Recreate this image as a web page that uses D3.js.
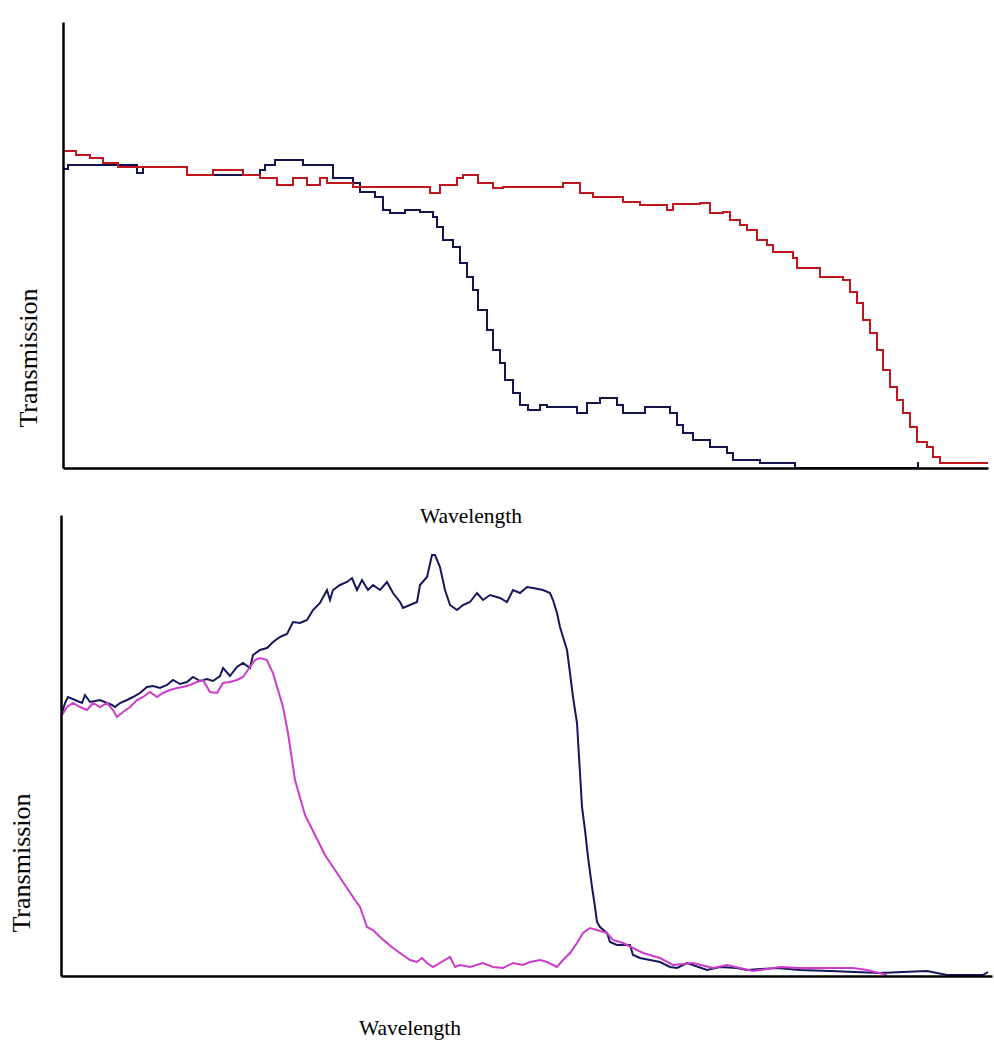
<!DOCTYPE html>
<html>
<head>
<meta charset="utf-8">
<script src="https://cdn.jsdelivr.net/npm/d3@7"></script>
<style>
	body { margin: 0; background: #fff; }
	.axis-label { font-family: 'Liberation Serif', 'Times New Roman', serif; fill: #000; }
	.x-label { font-size: 21.5px; }
	.y-label { font-size: 26px; }
	.axis path { stroke: #000; stroke-width: 2.5; }
	.spectrum { fill: none; stroke-width: 2; stroke-linejoin: miter; }
</style>
</head>
<body>
<svg id="chart" width="994" height="1042"></svg>
<script>
// arbitrary units: [wavelength, transmission]

let topBlue = [
	[1, 299], [5, 303], [74, 295], [80, 301], [124, 293], [197, 298], [202, 303], [212, 308],
	[240, 303], [270, 290], [290, 285], [297, 276], [312, 271], [320, 258], [327, 255], [342, 258],
	[357, 256], [370, 251], [374, 241], [380, 228], [390, 221], [397, 205], [404, 191], [410, 178],
	[415, 158], [424, 138], [430, 118], [437, 105], [442, 88], [450, 75], [457, 63], [465, 58],
	[477, 63], [484, 61], [514, 55], [524, 65], [537, 70], [554, 63], [560, 55], [582, 61],
	[607, 55], [614, 43], [620, 35], [630, 28], [647, 21], [664, 15], [670, 8], [697, 5],
	[732, 0], [855, 6]
]

let topRed = [
	[1, 317], [13, 313], [27, 310], [40, 305], [55, 301], [124, 293], [150, 298], [180, 293],
	[197, 290], [214, 283], [230, 290], [244, 283], [257, 290], [264, 285], [290, 281], [367, 275],
	[377, 283], [394, 290], [400, 293], [415, 285], [430, 280], [440, 281], [500, 285], [517, 275],
	[530, 271], [560, 266], [577, 263], [604, 258], [610, 264], [637, 265], [647, 255], [660, 256],
	[667, 248], [677, 243], [684, 238], [694, 228], [704, 223], [710, 216], [730, 210], [734, 200],
	[757, 191], [780, 188], [787, 176], [794, 165], [800, 148], [807, 135], [814, 118], [820, 98],
	[827, 81], [834, 68], [840, 55], [847, 41], [854, 26], [864, 21], [870, 11], [877, 5], [925, 5]
]

let bottomNavy = [
	[1, 263], [4, 273], [7, 279], [21, 273], [24, 281], [29, 274], [39, 276], [46, 273],
	[51, 271], [54, 269], [59, 273], [66, 276], [72, 279], [79, 283], [86, 289], [92, 290],
	[99, 288], [106, 291], [112, 296], [119, 292], [126, 294], [132, 299], [139, 295], [146, 297],
	[152, 295], [159, 300], [162, 308], [169, 300], [176, 309], [182, 313], [189, 308], [192, 321],
	[199, 326], [206, 328], [212, 334], [219, 339], [226, 342], [232, 354], [239, 353], [246, 356],
	[252, 366], [259, 373], [266, 386], [269, 376], [272, 386], [279, 391], [286, 394], [291, 398],
	[296, 386], [301, 396], [307, 386], [312, 391], [319, 386], [326, 394], [332, 383], [339, 374],
	[342, 368], [356, 374], [359, 391], [366, 399], [371, 421], [374, 421], [379, 409], [384, 386],
	[389, 371], [396, 366], [402, 371], [409, 374], [416, 383], [422, 376], [429, 381], [439, 378],
	[446, 374], [452, 386], [459, 383], [466, 389], [472, 388], [482, 386], [489, 383], [492, 376],
	[496, 363], [499, 349], [502, 339], [506, 326], [509, 303], [512, 279], [516, 253], [517, 236],
	[519, 203], [521, 169], [524, 146], [527, 119], [531, 89], [534, 69], [536, 54], [539, 49],
	[546, 43], [549, 34], [556, 31], [569, 31], [572, 21], [579, 18], [589, 16], [599, 14],
	[609, 9], [616, 8], [626, 13], [646, 6], [659, 9], [676, 8], [686, 6], [716, 8],
	[739, 6], [769, 5], [819, 3], [842, 4], [866, 5], [886, 1], [922, 1], [927, 4]
]

let bottomMagenta = [
	[1, 261], [6, 269], [12, 273], [19, 269], [26, 266], [32, 273], [39, 269], [46, 273],
	[52, 266], [56, 259], [62, 264], [69, 269], [76, 276], [82, 279], [89, 284], [96, 279],
	[102, 283], [109, 286], [116, 288], [122, 289], [129, 291], [136, 294], [142, 296], [149, 284],
	[156, 283], [162, 293], [169, 294], [176, 296], [182, 299], [189, 309], [194, 316], [199, 318],
	[206, 316], [209, 309], [212, 303], [217, 286], [222, 269], [227, 243], [234, 196], [244, 161],
	[254, 141], [264, 121], [274, 106], [284, 91], [294, 76], [299, 69], [306, 49], [312, 46],
	[319, 39], [326, 33], [332, 28], [339, 23], [349, 16], [356, 14], [361, 18], [366, 13],
	[372, 9], [389, 19], [394, 9], [399, 11], [409, 9], [422, 13], [432, 9], [442, 8],
	[452, 13], [462, 11], [469, 14], [479, 16], [486, 14], [496, 9], [502, 16], [509, 23],
	[516, 33], [522, 43], [529, 48], [546, 43], [552, 36], [562, 33], [582, 23], [599, 18],
	[612, 11], [632, 13], [652, 8], [666, 11], [692, 5], [719, 9], [739, 8], [792, 8],
	[806, 6], [826, 1]
]

let panels = [
	{
		xMax: 925, yMax: 446,
		left: 63, right: 988, top: 22, bottom: 468,
		curve: d3.curveStepAfter,
		series: [
			{ data: topBlue, color: '#13134e' },
			{ data: topRed, color: '#c0161e' }
		],
		xLabel: [471, 523],
		yLabel: [37, 358]
	},
	{
		xMax: 931, yMax: 461,
		left: 61, right: 992, top: 515, bottom: 976,
		curve: d3.curveLinear,
		series: [
			{ data: bottomNavy, color: '#16165c' },
			{ data: bottomMagenta, color: '#cc3ccc' }
		],
		xLabel: [410, 1035],
		yLabel: [30, 863]
	}
]

let svg = d3.select('#chart')

panels.forEach(p => {

	let x = d3.scaleLinear()
		.domain([0, p.xMax])
		.range([p.left, p.right])

	let y = d3.scaleLinear()
		.domain([0, p.yMax])
		.range([p.bottom, p.top])

	let line = d3.line()
		.x(d => x(d[0]))
		.y(d => y(d[1]))
		.curve(p.curve)

	p.series.forEach(s => {
		svg.append('path')
			.datum(s.data)
			.attr('class', 'spectrum')
			.attr('stroke', s.color)
			.attr('d', line)
	})

	svg.append('g')
		.attr('class', 'axis')
		.attr('transform', `translate(${p.left},0)`)
		.call(d3.axisLeft(y).ticks(0).tickSizeOuter(0))

	svg.append('g')
		.attr('class', 'axis')
		.attr('transform', `translate(0,${p.bottom})`)
		.call(d3.axisBottom(x).ticks(0).tickSizeOuter(0))

	svg.append('text')
		.attr('class', 'axis-label x-label')
		.attr('x', p.xLabel[0])
		.attr('y', p.xLabel[1])
		.attr('text-anchor', 'middle')
		.text('Wavelength')

	svg.append('text')
		.attr('class', 'axis-label y-label')
		.attr('transform', `translate(${p.yLabel[0]},${p.yLabel[1]}) rotate(-90)`)
		.attr('text-anchor', 'middle')
		.text('Transmission')
})
</script>
</body>
</html>
